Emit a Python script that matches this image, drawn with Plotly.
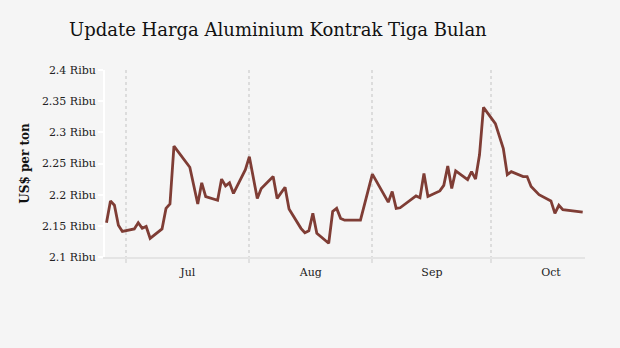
import plotly.graph_objects as go

dates = [
    "2023-06-26", "2023-06-27", "2023-06-28", "2023-06-29", "2023-06-30",
    "2023-07-03", "2023-07-04", "2023-07-05", "2023-07-06", "2023-07-07",
    "2023-07-10", "2023-07-11", "2023-07-12", "2023-07-13", "2023-07-17",
    "2023-07-19", "2023-07-20", "2023-07-21", "2023-07-24", "2023-07-25",
    "2023-07-26", "2023-07-27", "2023-07-28", "2023-07-31", "2023-08-01",
    "2023-08-03", "2023-08-04", "2023-08-07", "2023-08-08", "2023-08-10",
    "2023-08-11", "2023-08-14", "2023-08-15", "2023-08-16", "2023-08-17",
    "2023-08-18", "2023-08-21", "2023-08-22", "2023-08-23", "2023-08-24",
    "2023-08-25", "2023-08-29", "2023-09-01", "2023-09-05", "2023-09-06",
    "2023-09-07", "2023-09-08", "2023-09-12", "2023-09-13", "2023-09-14",
    "2023-09-15", "2023-09-18", "2023-09-19", "2023-09-20", "2023-09-21",
    "2023-09-22", "2023-09-25", "2023-09-26", "2023-09-27", "2023-09-28",
    "2023-09-29", "2023-10-02", "2023-10-04", "2023-10-05", "2023-10-06",
    "2023-10-09", "2023-10-10", "2023-10-11", "2023-10-13", "2023-10-16",
    "2023-10-17", "2023-10-18", "2023-10-19", "2023-10-20", "2023-10-24",
]
prices = [
    2.155, 2.190, 2.183, 2.151, 2.141,
    2.145, 2.155, 2.146, 2.149, 2.130,
    2.145, 2.178, 2.185, 2.278, 2.244,
    2.185, 2.219, 2.197, 2.191, 2.225,
    2.214, 2.219, 2.202, 2.240, 2.261,
    2.194, 2.210, 2.229, 2.194, 2.212,
    2.177, 2.146, 2.139, 2.142, 2.170,
    2.138, 2.122, 2.173, 2.178, 2.162,
    2.159, 2.159, 2.233, 2.188, 2.205,
    2.178, 2.179, 2.198, 2.195, 2.234,
    2.197, 2.206, 2.215, 2.246, 2.210,
    2.238, 2.224, 2.237, 2.225, 2.264,
    2.340, 2.314, 2.274, 2.232, 2.237,
    2.229, 2.229, 2.213, 2.200, 2.190,
    2.170, 2.183, 2.176, 2.175, 2.172,
]

title_text = "Update Harga Aluminium Kontrak Tiga Bulan"
y_title = "US$ per ton"
y_ticks = [2.1, 2.15, 2.2, 2.25, 2.3, 2.35, 2.4]
y_ticktext = ["2.1 Ribu", "2.15 Ribu", "2.2 Ribu", "2.25 Ribu", "2.3 Ribu", "2.35 Ribu", "2.4 Ribu"]

FONT = "DejaVu Serif"
BG = "#f5f5f5"

fig = go.Figure(go.Scatter(
    x=dates, y=prices, mode="lines",
    line=dict(color="#7f3d35", width=2.8),
    hoverinfo="x+y",
))

fig.update_layout(
    width=620, height=348,
    paper_bgcolor=BG, plot_bgcolor=BG,
    margin=dict(l=105, r=35, t=70, b=91),
    showlegend=False,
    font=dict(family=FONT, color="#222222", size=11),
    title=dict(text=title_text, x=69/620, xref="paper", xanchor="left",
               y=1 - 30/348, yanchor="middle",
               font=dict(family=FONT, size=18, color="#111111")),
)
fig.layout.title.xref = "container"
fig.layout.title.yref = "container"

fig.update_xaxes(
    type="date",
    range=["2023-06-25 15:00", "2023-10-24 14:00"],
    dtick="M1", tick0="2023-06-01", tickformat="%b", ticklabelmode="period",
    showgrid=True, gridcolor="#dcdcdc", griddash="dot", gridwidth=1.5,
    showline=True, linecolor="#e4e4e4", linewidth=2,
    ticks="outside", ticklen=4, tickcolor="#e0e0e0", tickwidth=1.5,
    tickfont=dict(family=FONT, size=11, color="#222222"),
    zeroline=False, fixedrange=True,
)
fig.update_yaxes(
    range=[2.1, 2.4],
    tickvals=y_ticks, ticktext=y_ticktext,
    showgrid=False, zeroline=False,
    showline=True, linecolor="#ffffff", linewidth=2,
    ticks="outside", ticklen=5, tickcolor="#ffffff", tickwidth=2,
    tickfont=dict(family=FONT, size=11, color="#222222"),
    title=dict(text="<b>" + y_title + "</b>", font=dict(family=FONT, size=12, color="#111111"), standoff=10),
    fixedrange=True,
)

fig.write_html("out.html")
